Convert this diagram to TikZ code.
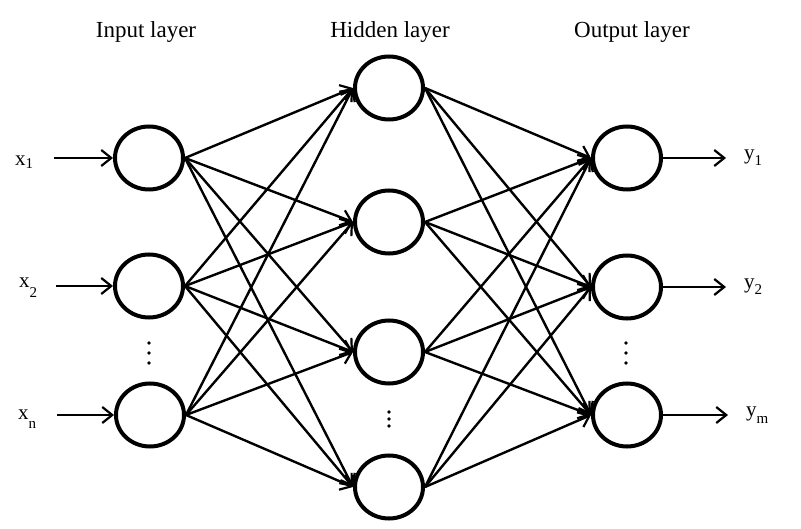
\documentclass[tikz,border=0pt]{standalone}
\usepackage{fontspec}
\setmainfont{Liberation Serif}
\usetikzlibrary{shapes.geometric,arrows.meta}
\tikzset{
  neuron/.style={ellipse,draw=black,line width=4pt,minimum width=68pt,minimum height=63pt,inner sep=0pt},
  conn/.style={line width=2.4pt,-{Straight Barb[length=10pt,width=16pt,line width=2.2pt]}},
  title/.style={font=\fontsize{23}{26}\selectfont,inner sep=0pt},
  lbl/.style={font=\fontsize{21}{22}\selectfont,inner sep=0pt,anchor=base west},
  dotm/.style={fill=black,circle,inner sep=0pt,minimum size=3.8pt}
}
\newcommand{\subl}[2]{\raisebox{#1}{\fontsize{15}{15}\selectfont #2}}
\begin{document}
\begin{tikzpicture}[x=1pt,y=-1pt]
\useasboundingbox (0,0) rectangle (801,529);
% titles
\node[title] (t1) at (146,32) {Input layer};
\node[title] (t2) at (390,32) {Hidden layer};
\node[title] (t3) at (632,32) {Output layer};
% input nodes
\node[neuron] (i1) at (149,158) {};
\node[neuron] (i2) at (149,286) {};
\node[neuron] (i3) at (150,415) {};
% hidden nodes
\node[neuron] (h1) at (389,88) {};
\node[neuron] (h2) at (389,222) {};
\node[neuron] (h3) at (389,352) {};
\node[neuron] (h4) at (389,487) {};
% output nodes
\node[neuron] (o1) at (627,158) {};
\node[neuron] (o2) at (627,287) {};
\node[neuron] (o3) at (627,415) {};
% input arrows
\coordinate (a1) at (54,158);
\coordinate (a2) at (56,286);
\coordinate (a3) at (57,415);
\draw[conn] (a1) -- (i1.west);
\draw[conn] (a2) -- (i2.west);
\draw[conn] (a3) -- (i3.west);
% output arrows
\coordinate (b1) at (726,158);
\coordinate (b2) at (726,287);
\coordinate (b3) at (728,415);
\draw[conn] (o1.east) -- (b1);
\draw[conn] (o2.east) -- (b2);
\draw[conn] (o3.east) -- (b3);
% input -> hidden
\foreach \i in {i1,i2,i3}{
  \foreach \h in {h1,h2,h3,h4}{
    \draw[conn] (\i.east) -- (\h.west);
  }
}
% hidden -> output
\foreach \h in {h1,h2,h3,h4}{
  \foreach \o in {o1,o2,o3}{
    \draw[conn] (\h.east) -- (\o.west);
  }
}
% labels
\node[lbl] (x1) at (15,166) {x\subl{-3pt}{1}};
\node[lbl] (x2) at (19,288) {x\subl{-10pt}{2}};
\node[lbl] (xn) at (18,420) {x\subl{-9pt}{n}};
\node[lbl] (y1) at (744,160) {y\subl{-6pt}{1}};
\node[lbl] (y2) at (744,289) {y\subl{-6pt}{2}};
\node[lbl] (ym) at (746,417) {y\subl{-7pt}{m}};
% dots
\node[dotm] (d1) at (149,343) {};
\node[dotm] (d2) at (149,353) {};
\node[dotm] (d3) at (149,363) {};
\node[dotm] (e1) at (389,412) {};
\node[dotm] (e2) at (389,419) {};
\node[dotm] (e3) at (389,426) {};
\node[dotm] (f1) at (626,343) {};
\node[dotm] (f2) at (626,353) {};
\node[dotm] (f3) at (626,363) {};
\end{tikzpicture}
\end{document}
